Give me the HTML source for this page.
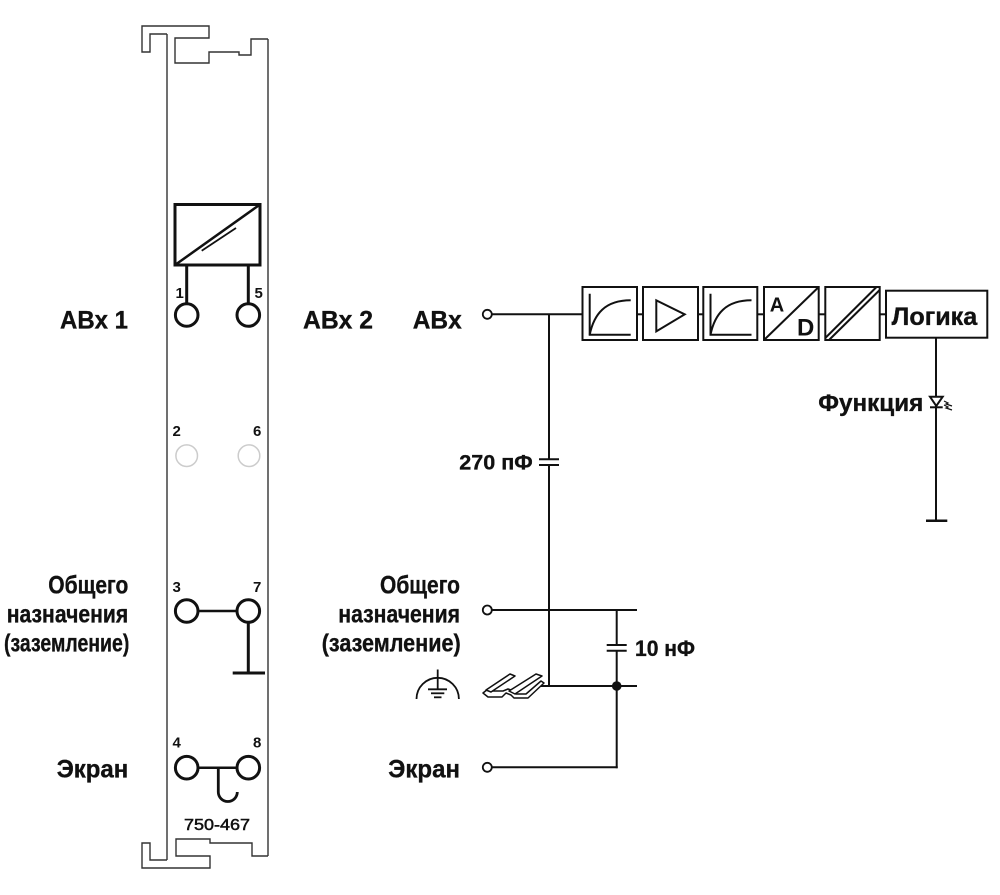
<!DOCTYPE html>
<html><head><meta charset="utf-8"><style>
html,body{margin:0;padding:0;background:#fff;}
svg{display:block;}
text{font-family:"Liberation Sans","DejaVu Sans",sans-serif;font-weight:bold;fill:#111;}
.lb{stroke:#111;stroke-width:0.35;}
</style></head><body>
<svg width="1000" height="895" viewBox="0 0 1000 895" xmlns="http://www.w3.org/2000/svg">
<!-- Module body -->
<g fill="none" stroke="#333" stroke-width="1.4">
<line x1="167" y1="34" x2="167" y2="860"/>
<line x1="268" y1="39" x2="268" y2="856"/>
<polyline points="167,34 150,34 150,52 142,52 142,26 209,26 209,38 175,38 175,63 209,63 209,52 239,52 239,55 251,55 251,39 268,39"/>
<polyline points="167,860 150,860 150,843 142,843 142,868 210,868 210,856 176,856 176,839 210,839 210,843 252,843 252,856 268,856"/>
</g>
<!-- Transducer box -->
<g fill="none" stroke="#111">
<rect x="175" y="204.5" width="85" height="60.5" stroke-width="3"/>
<line x1="175" y1="265" x2="260" y2="204.5" stroke-width="2.5"/>
<line x1="201.7" y1="250.7" x2="236" y2="228" stroke-width="1.8"/>
<line x1="186.7" y1="265" x2="186.7" y2="303.5" stroke-width="3"/>
<line x1="248.3" y1="265" x2="248.3" y2="303.5" stroke-width="3"/>
<circle cx="186.7" cy="315" r="11.3" stroke-width="3"/>
<circle cx="248.3" cy="315" r="11.3" stroke-width="3"/>
<circle cx="186.7" cy="455.7" r="10.8" stroke="#ccc" stroke-width="1.5"/>
<circle cx="249" cy="455.7" r="10.8" stroke="#ccc" stroke-width="1.5"/>
<circle cx="186.7" cy="611" r="11.3" stroke-width="3"/>
<circle cx="248.3" cy="611" r="11.3" stroke-width="3"/>
<line x1="198" y1="611" x2="237" y2="611" stroke-width="2.5"/>
<line x1="248.3" y1="622.3" x2="248.3" y2="673" stroke-width="3"/>
<line x1="232.7" y1="673" x2="265" y2="673" stroke-width="3"/>
<circle cx="186.7" cy="767.7" r="11.3" stroke-width="3"/>
<circle cx="248.3" cy="767.7" r="11.3" stroke-width="3"/>
<line x1="198" y1="767.7" x2="237" y2="767.7" stroke-width="2.5"/>
<path d="M218.3,767.7 L218.3,792 A9.5,9.5 0 0 0 237.3,792" stroke-width="2.8"/>
</g>
<!-- Module numbers -->
<text x="175.5" y="298" font-size="15">1</text>
<text x="254.5" y="298" font-size="15">5</text>
<text x="172.5" y="436" font-size="15">2</text>
<text x="253" y="436" font-size="15">6</text>
<text x="172.5" y="592" font-size="15">3</text>
<text x="253" y="592" font-size="15">7</text>
<text x="172.5" y="747.5" font-size="15">4</text>
<text x="253" y="747.5" font-size="15">8</text>
<text x="184" y="830" font-size="16" textLength="66" lengthAdjust="spacingAndGlyphs" style="font-weight:normal" stroke="#111" stroke-width="0.5">750-467</text>

<!-- Labels -->
<text class="lb" x="60" y="328.5" font-size="25" textLength="68" lengthAdjust="spacingAndGlyphs">ABx 1</text>
<text class="lb" x="303" y="328.5" font-size="25" textLength="70" lengthAdjust="spacingAndGlyphs">ABx 2</text>
<text class="lb" x="412.7" y="328.5" font-size="25" textLength="49" lengthAdjust="spacingAndGlyphs">ABx</text>
<text class="lb" x="48.3" y="593.3" font-size="25" textLength="80" lengthAdjust="spacingAndGlyphs">Общего</text>
<text class="lb" x="6.7" y="622.7" font-size="25" textLength="121.6" lengthAdjust="spacingAndGlyphs">назначения</text>
<text class="lb" x="4" y="651.7" font-size="25" textLength="125.3" lengthAdjust="spacingAndGlyphs">(заземление)</text>
<text class="lb" x="56.7" y="777.3" font-size="25" textLength="71.6" lengthAdjust="spacingAndGlyphs">Экран</text>
<text class="lb" x="380" y="593.3" font-size="25" textLength="80" lengthAdjust="spacingAndGlyphs">Общего</text>
<text class="lb" x="338.3" y="622.7" font-size="25" textLength="121.7" lengthAdjust="spacingAndGlyphs">назначения</text>
<text class="lb" x="321.7" y="651.7" font-size="25" textLength="139" lengthAdjust="spacingAndGlyphs">(заземление)</text>
<text class="lb" x="388.3" y="777.3" font-size="25" textLength="71.7" lengthAdjust="spacingAndGlyphs">Экран</text>
<text class="lb" x="459.3" y="469.3" font-size="21" textLength="73.4" lengthAdjust="spacingAndGlyphs">270 пФ</text>
<text class="lb" x="635" y="656" font-size="22" textLength="60" lengthAdjust="spacingAndGlyphs">10 нФ</text>
<text class="lb" x="891.7" y="325" font-size="25" textLength="85.6" lengthAdjust="spacingAndGlyphs">Логика</text>
<text class="lb" x="818.3" y="411" font-size="24" textLength="105" lengthAdjust="spacingAndGlyphs">Функция</text>

<!-- Right wiring -->
<g fill="none" stroke="#111" stroke-width="2">
<circle cx="487.3" cy="314.3" r="4.5" stroke-width="1.8" fill="#fff"/>
<line x1="492" y1="314.3" x2="582.5" y2="314.3"/>
<line x1="549" y1="314.3" x2="549" y2="459.3"/>
<line x1="539" y1="459.3" x2="559" y2="459.3"/>
<line x1="539" y1="465" x2="559" y2="465"/>
<line x1="549" y1="465" x2="549" y2="686"/>
<circle cx="487.3" cy="610" r="4.5" stroke-width="1.8" fill="#fff"/>
<line x1="492" y1="610" x2="637" y2="610"/>
<line x1="538" y1="686" x2="637" y2="686"/>
<line x1="616.7" y1="610" x2="616.7" y2="645"/>
<line x1="606.7" y1="645" x2="626.7" y2="645"/>
<line x1="606.7" y1="650.7" x2="626.7" y2="650.7"/>
<line x1="616.7" y1="650.7" x2="616.7" y2="768.3"/>
<circle cx="487.3" cy="767.3" r="4.5" stroke-width="1.8" fill="#fff"/>
<line x1="492" y1="767.3" x2="617.7" y2="767.3"/>
</g>
<circle cx="616.7" cy="686" r="4.8" fill="#111"/>

<!-- Earth symbol -->
<g fill="none" stroke="#111" stroke-width="1.8">
<path d="M416.5,699 A21.2,21.2 0 0 1 458.9,699"/>
<line x1="437.7" y1="669.5" x2="437.7" y2="689.3"/>
<line x1="428" y1="689.3" x2="447" y2="689.3"/>
<line x1="431" y1="693.3" x2="444.3" y2="693.3"/>
<line x1="434" y1="697.3" x2="441.5" y2="697.3"/>
</g>
<!-- DIN rail -->
<g fill="#fff" stroke="#111" stroke-width="1.5" stroke-linejoin="round">
<polygon points="483,693 488,697 502,697 506,693 511,695 514,698 528,698 544,683 541,681 526,694 516,694 514,691 508,689 503,691 491,691 488,689"/>
<polygon points="486,690 510,674 515,676 491,692"/>
<polygon points="509,691 536,674 542,676 515,694"/>
</g>

<!-- Blocks -->
<g fill="none" stroke="#111" stroke-width="2">
<rect x="582.5" y="287" width="54.5" height="53"/>
<rect x="643" y="287" width="55" height="53"/>
<rect x="703.3" y="287" width="54" height="53"/>
<rect x="764" y="287" width="54.7" height="53"/>
<rect x="825.3" y="287" width="54.4" height="53"/>
<rect x="886" y="290.7" width="101.3" height="47"/>
<line x1="637" y1="314.3" x2="643" y2="314.3"/>
<line x1="698" y1="314.3" x2="703.3" y2="314.3"/>
<line x1="757.3" y1="314.3" x2="764" y2="314.3"/>
<line x1="818.7" y1="314.3" x2="825.3" y2="314.3"/>
<line x1="879.7" y1="314.3" x2="886" y2="314.3"/>
<polyline points="589.7,293.7 589.7,334.7 630.7,334.7"/>
<path d="M589.7,334.7 C594,314 605,300.3 630.7,300.3"/>
<polygon points="656.3,300.3 656.3,331.3 684.7,314.3"/>
<polyline points="710.5,293.7 710.5,334.7 751.5,334.7"/>
<path d="M710.5,334.7 C714.8,314 725.8,300.3 751.5,300.3"/>
<line x1="764" y1="340" x2="818.7" y2="287"/>
<line x1="825.3" y1="338" x2="876.5" y2="287"/>
<line x1="829" y1="340" x2="879.7" y2="290"/>
<line x1="936" y1="337.7" x2="936" y2="520.7"/>
<line x1="926" y1="520.7" x2="947.3" y2="520.7" stroke-width="2.5"/>
<polygon points="930,396.7 942.7,396.7 936.3,406" fill="#fff"/>
<line x1="930" y1="407.3" x2="942.7" y2="407.3"/>
<path d="M944,401 L948,403 L946,404 L952,406" stroke-width="1.2"/>
<path d="M944,405 L948,407 L946,408 L952,410" stroke-width="1.2"/>
</g>
<text x="769.7" y="311.3" font-size="20">A</text>
<text x="797" y="335.3" font-size="24">D</text>
</svg>
</body></html>
